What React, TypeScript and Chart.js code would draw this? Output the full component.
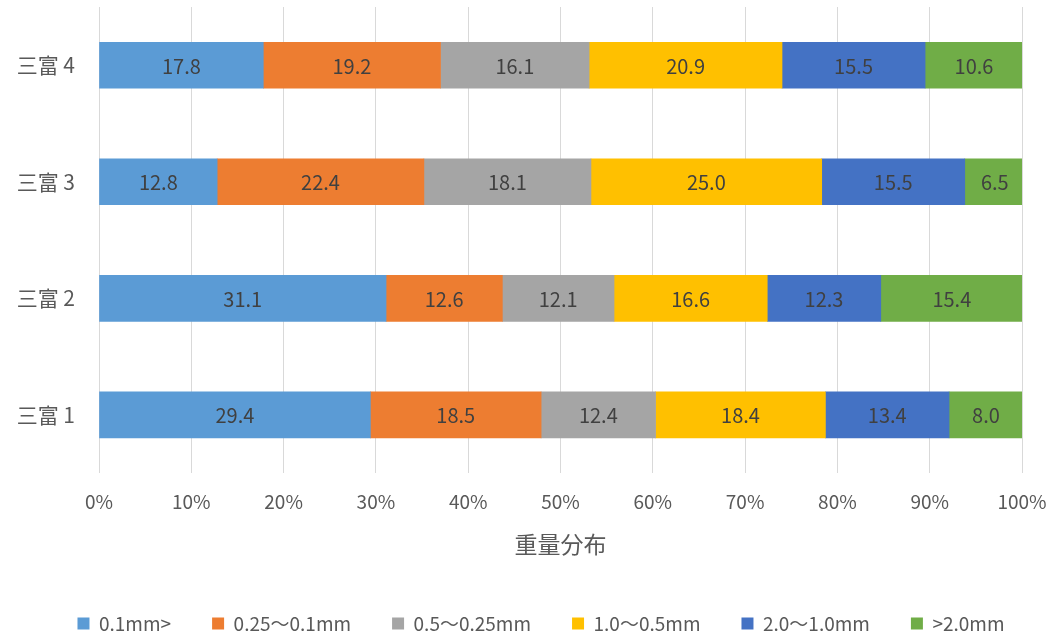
import React, { useEffect, useRef } from "react";
import { Chart, registerables } from "chart.js";

Chart.register(...registerables);

const categories = ["三富 4", "三富 3", "三富 2", "三富 1"];
const seriesNames = ["0.1mm>", "0.25〜0.1mm", "0.5〜0.25mm", "1.0〜0.5mm", "2.0〜1.0mm", ">2.0mm"];
const colors = ["#5B9BD5", "#ED7D31", "#A5A5A5", "#FFC000", "#4472C4", "#70AD47"];
const s01 = [17.8, 12.8, 31.1, 29.4];
const s025 = [19.2, 22.4, 12.6, 18.5];
const s05 = [16.1, 18.1, 12.1, 12.4];
const s10 = [20.9, 25.0, 16.6, 18.4];
const s20 = [15.5, 15.5, 12.3, 13.4];
const s20p = [10.6, 6.5, 15.4, 8.0];
const seriesValues = [s01, s025, s05, s10, s20, s20p];
const xTicks = [0, 10, 20, 30, 40, 50, 60, 70, 80, 90, 100];
const xTitle = "重量分布";

const FONT = "'Noto Sans CJK JP', 'Noto Sans', sans-serif";

const labelPlugin = {
  id: "segLabels",
  beforeDraw(chart: any) {
    const lg = chart.legend;
    if (lg && !lg.__shifted) {
      lg.left += 14;
      lg.right += 14;
      lg.__shifted = true;
    }
  },
  afterDatasetsDraw(chart: any) {
    const ctx = chart.ctx;
    ctx.save();
    ctx.font = `20px ${FONT}`;
    ctx.fillStyle = "#404040";
    ctx.textAlign = "center";
    ctx.textBaseline = "middle";
    chart.data.datasets.forEach((ds: any, i: number) => {
      const meta = chart.getDatasetMeta(i);
      meta.data.forEach((el: any, j: number) => {
        const v = ds.data[j];
        const cx = (el.x + el.base) / 2;
        ctx.fillText(Number(v).toFixed(1), cx, el.y + 1);
      });
    });
    ctx.restore();
  },
};

export default function App() {
  const ref = useRef<HTMLCanvasElement>(null);
  useEffect(() => {
    if (!ref.current) return;
    const chart = new Chart(ref.current, {
      type: "bar",
      data: {
        labels: categories,
        datasets: seriesValues.map((vals, i) => ({
          label: seriesNames[i],
          data: vals,
          backgroundColor: colors[i],
          borderWidth: 0,
          barThickness: 46,
        })),
      },
      options: {
        indexAxis: "y",
        animation: false,
        responsive: false,
        maintainAspectRatio: false,
        layout: { padding: { top: 7, right: 0, left: 0, bottom: -5 } },
        scales: {
          x: {
            stacked: true,
            min: 0,
            max: 100,
            afterBuildTicks: (scale: any) => {
              scale.ticks = xTicks.map((v) => ({ value: v }));
            },
            afterFit: (scale: any) => {
              scale.paddingLeft = 0;
              scale.paddingRight = 32;
            },
            ticks: {
              callback: (v: any) => v + "%",
              color: "#595959",
              font: { family: FONT, size: 19 },
              padding: 17,
              maxRotation: 0,
            },
            grid: { color: "#D9D9D9", lineWidth: 1, drawTicks: false },
            border: { display: false },
            title: {
              display: true,
              text: xTitle,
              color: "#595959",
              font: { family: FONT, size: 23 },
              padding: { top: 0.5, bottom: 15 },
            },
          },
          y: {
            stacked: true,
            ticks: {
              color: "#595959",
              font: { family: FONT, size: 21 },
              padding: 24,
            },
            grid: { display: false, drawTicks: false },
            border: { display: false },
            afterFit: (scale: any) => {
              scale.width = 99;
              scale.paddingTop = 0;
              scale.paddingBottom = 0;
            },
          },
        },
        plugins: {
          legend: {
            position: "bottom",
            labels: {
              boxWidth: 12,
              boxHeight: 12,
              color: "#595959",
              font: { family: FONT, size: 19 },
              padding: 41,
            },
          },
          tooltip: { enabled: false },
        },
      },
      plugins: [labelPlugin],
    } as any);
    return () => chart.destroy();
  }, []);
  return (
    <div style={{ position: "fixed", left: 0, top: 0, width: 1054, height: 638, background: "#fff" }}>
      <canvas ref={ref} width={1054} height={638} style={{ width: 1054, height: 638 }} />
    </div>
  );
}
